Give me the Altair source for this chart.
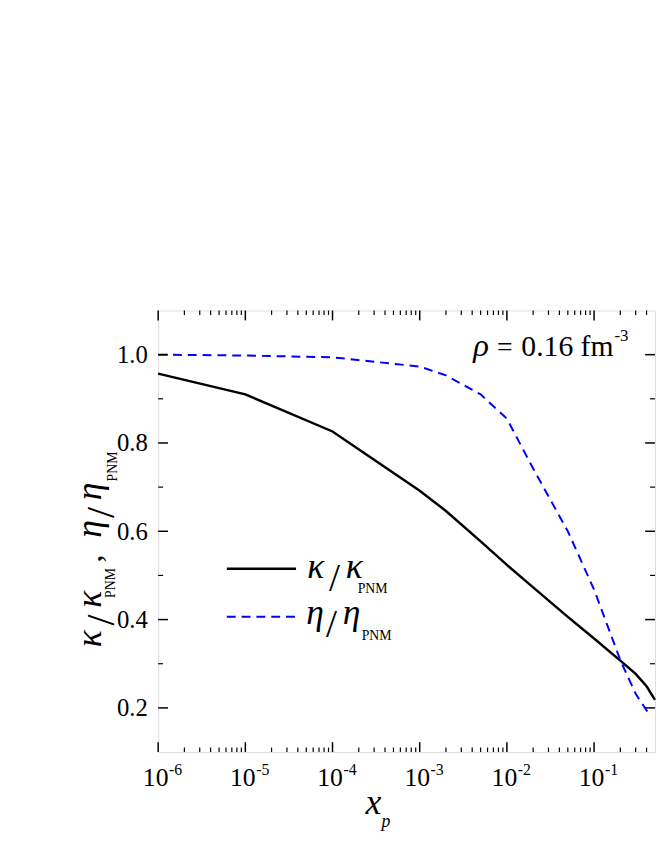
import altair as alt
import pandas as pd

# ---------------- data ----------------
xp_kappa = [1e-6, 1e-5, 1e-4, 1e-3, 2e-3, 5e-3, 1e-2, 2e-2, 5e-2, 0.1, 0.2, 0.3, 0.4, 0.5]
kappa_ratio = [0.957, 0.910, 0.826, 0.692, 0.646, 0.577, 0.524, 0.473, 0.406, 0.357, 0.307, 0.277, 0.249, 0.218]

xp_eta = [1e-6, 1e-5, 1e-4, 1e-3, 2e-3, 5e-3, 1e-2, 2e-2, 5e-2, 0.1, 0.2, 0.3, 0.42]
eta_ratio = [1.000, 0.998, 0.994, 0.973, 0.953, 0.910, 0.855, 0.742, 0.600, 0.468, 0.308, 0.232, 0.188]

x_decades = [1e-6, 1e-5, 1e-4, 1e-3, 1e-2, 1e-1]
x_exponents = ["-6", "-5", "-4", "-3", "-2", "-1"]
x_minor_mult = [2, 3, 4, 5, 6, 7, 8, 9]
y_major = [0.2, 0.4, 0.6, 0.8, 1.0]
y_minor = [0.3, 0.5, 0.7, 0.9]

XMIN, XMAX = 1e-6, 0.5
YMIN, YMAX = 0.1, 1.1
x_minor = [m * d for d in x_decades for m in x_minor_mult if m * d < XMAX]

# ---------------- layout ----------------
W, H = 503, 447
SERIF = "Liberation Serif"
BLUE = "#0000ff"

xscale = alt.Scale(type="log", domain=[XMIN, XMAX], nice=False)
yscale = alt.Scale(domain=[YMIN, YMAX], nice=False, zero=False)

xaxis = alt.Axis(values=x_decades, labelExpr="'10'", ticks=False, domain=False, grid=False,
                 labelFont=SERIF, labelFontSize=26, labelColor="black", labelPadding=13,
                 labelOffset=-3, labelFlush=False, labelOverlap=False, labelBound=False, title=None)
yaxis = alt.Axis(values=y_major, format=".1f", ticks=False, domain=False, grid=False,
                 labelFont=SERIF, labelFontSize=25, labelColor="black", labelPadding=11,
                 labelOverlap=False, title=None)

df_k = pd.DataFrame({"xp": xp_kappa, "r": kappa_ratio})
df_e = pd.DataFrame({"xp": xp_eta, "r": eta_ratio})

kappa_line = alt.Chart(df_k).mark_line(color="black", strokeWidth=2.5).encode(
    x=alt.X("xp:Q", scale=xscale, axis=xaxis),
    y=alt.Y("r:Q", scale=yscale, axis=yaxis),
)
eta_line = alt.Chart(df_e).mark_line(color=BLUE, strokeWidth=2, strokeDash=[9, 6]).encode(
    x=alt.X("xp:Q", scale=xscale),
    y=alt.Y("r:Q", scale=yscale),
)


def xticks(vals, y0, y1, w):
    return alt.Chart(pd.DataFrame({"xp": vals})).mark_rule(color="black", strokeWidth=w).encode(
        x=alt.X("xp:Q", scale=xscale), y=alt.value(y0), y2=alt.value(y1))


def yticks(vals, x0, x1, w):
    return alt.Chart(pd.DataFrame({"r": vals})).mark_rule(color="black", strokeWidth=w).encode(
        y=alt.Y("r:Q", scale=yscale), x=alt.value(x0), x2=alt.value(x1))


ticks = [
    xticks(x_decades, H, H - 10, 1.5), xticks(x_minor, H, H - 4.5, 1.2),
    xticks(x_decades, 0, 10, 1.5), xticks(x_minor, 0, 4.5, 1.2),
    yticks(y_major, 0, 10, 1.5), yticks(y_minor, 0, 5, 1.2),
    yticks(y_major, W, W - 10, 1.5), yticks(y_minor, W, W - 5, 1.2),
]

exps = alt.Chart(pd.DataFrame({"xp": x_decades, "e": x_exponents})).mark_text(
    align="left", baseline="top", fontSize=16, font=SERIF, dx=11, color="black").encode(
    x=alt.X("xp:Q", scale=xscale), y=alt.value(H + 10), text="e:N")


def txt(s, x, y, size, italic=False, angle=0, align="left"):
    kw = dict(fontSize=size, font=SERIF, fontStyle="italic" if italic else "normal",
              align=align, baseline="alphabetic", color="black")
    if angle:
        kw["angle"] = angle
    return alt.Chart(pd.DataFrame({"t": [s]})).mark_text(**kw).encode(
        text="t:N", x=alt.value(x), y=alt.value(y))


G = 36  # greek letter size
texts = [
    # rho annotation
    txt("ρ", 319, 46, 33, italic=True),
    txt("=", 343, 46, 28),
    txt("0.16 fm", 461, 46, 30, align="right"),
    txt("-3", 462, 31, 17),
    # legend labels
    txt("κ", 151, 271, G, italic=True),
    txt("/", 173, 284, 40),
    txt("κ", 190, 271, G, italic=True),
    txt("PNM", 202, 286, 14),
    txt("η", 150, 317, G, italic=True),
    txt("/", 170, 331, 40),
    txt("η", 187, 317, G, italic=True),
    txt("PNM", 206, 334, 14),
    # x title
    txt("x", 210, 510, 36, italic=True),
    txt("p", 226, 523, 18, italic=True),
    # y title (rotated)
    txt("κ", -58, 341, G, italic=True, angle=270),
    txt("/", -45, 319, 40, angle=270),
    txt("κ", -58, 301, G, italic=True, angle=270),
    txt("PNM", -44, 291, 14, angle=270),
    txt(",", -58, 255, 32, angle=270),
    txt("η", -58, 230, G, italic=True, angle=270),
    txt("/", -45, 210, 40, angle=270),
    txt("η", -58, 192, G, italic=True, angle=270),
    txt("PNM", -42, 173, 14, angle=270),
]

one = pd.DataFrame({"a": [0]})
leg_solid = alt.Chart(one).mark_rule(color="black", strokeWidth=2.5).encode(
    x=alt.value(69.5), x2=alt.value(139.6), y=alt.value(261.4))
leg_dash = alt.Chart(one).mark_rule(color=BLUE, strokeWidth=2, strokeDash=[9, 6]).encode(
    x=alt.value(69.5), x2=alt.value(139.6), y=alt.value(310))

chart = alt.layer(kappa_line, eta_line, *ticks, exps, leg_solid, leg_dash, *texts).properties(
    width=W, height=H,
    padding={"left": 152, "top": 301, "right": 1, "bottom": 100},
    autosize=alt.AutoSizeParams(type="none"),
).configure_view(stroke="black", strokeWidth=2).configure_axis(
    ticks=False, domain=False, grid=False, title=None, labelColor="black", labelFont=SERIF
).configure(background="white")

chart.save("out.html", embed_options={"renderer": "svg", "actions": False})
